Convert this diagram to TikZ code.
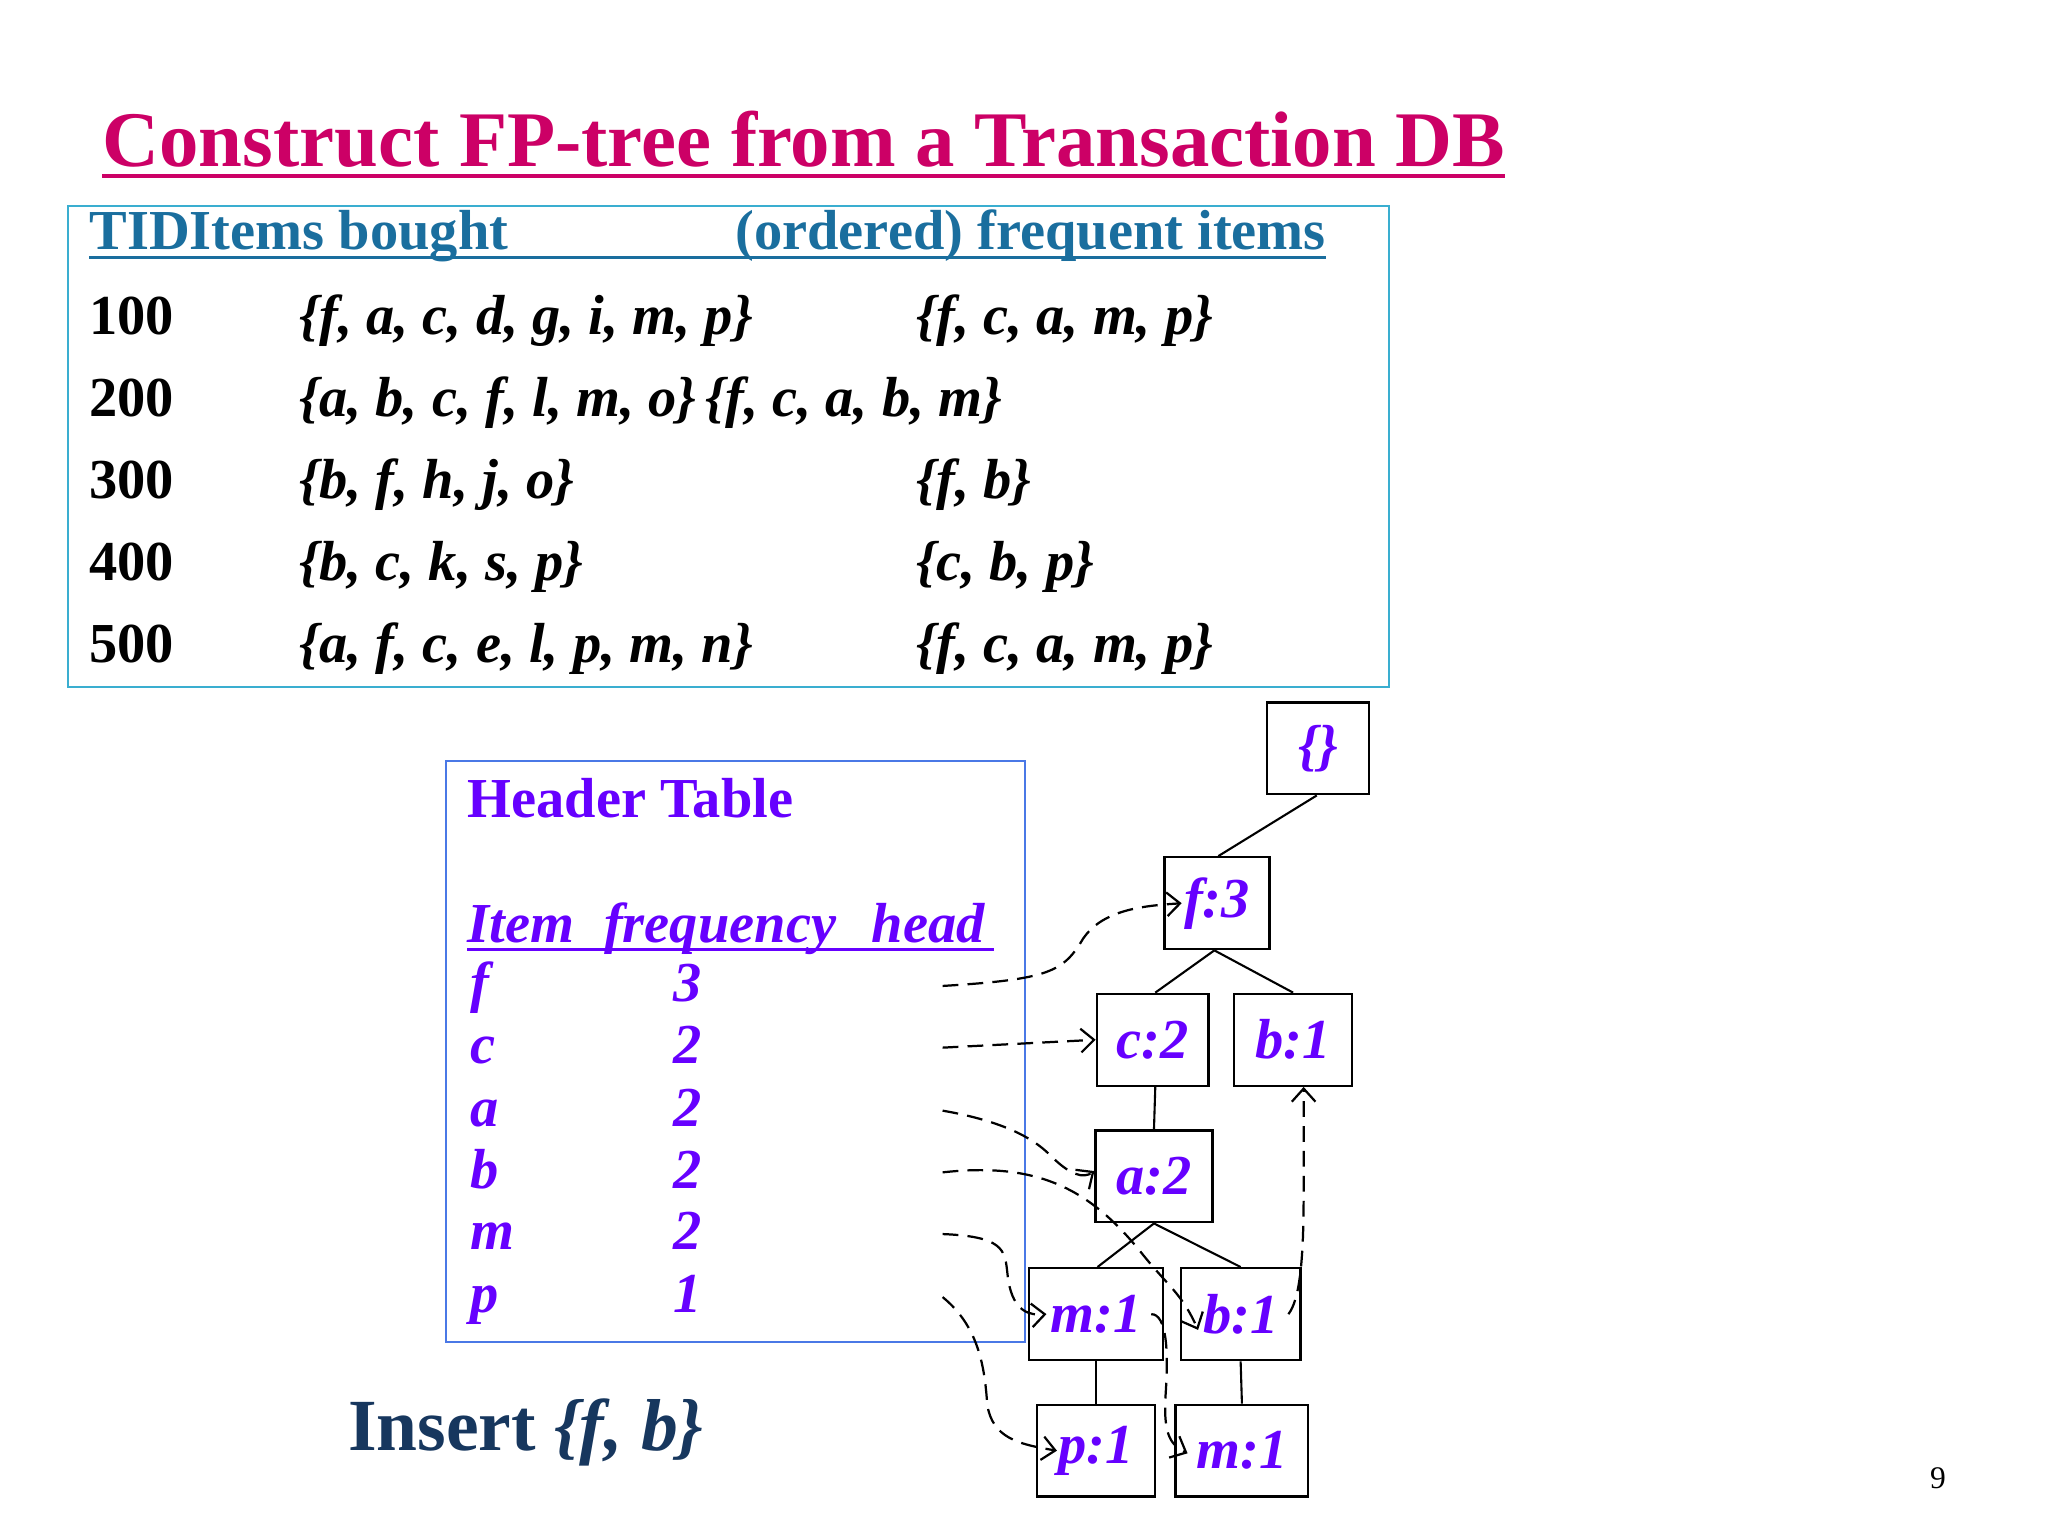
\documentclass[tikz,border=0pt]{standalone}
\usepackage{fontspec}
\setmainfont{Liberation Serif}
\usetikzlibrary{arrows.meta}
\definecolor{titlec}{HTML}{CC0066}
\definecolor{tidc}{HTML}{1A6E9E}
\definecolor{boxc}{HTML}{3AAED0}
\definecolor{htc}{HTML}{4A78E6}
\definecolor{pur}{HTML}{6600FF}
\definecolor{navy}{HTML}{17375E}
\tikzset{
  txt/.style={anchor=base west,inner sep=0pt,font=\fontsize{43}{50}\selectfont\bfseries},
  ht/.style={anchor=base west,inner sep=0pt,text=pur,font=\fontsize{43}{50}\selectfont\bfseries\itshape},
  tn/.style={draw=black,line width=1.8pt,inner sep=0pt,text=pur,font=\fontsize{43}{50}\selectfont\bfseries\itshape},
  edge/.style={line width=1.6pt},
  dar/.style={line width=1.7pt,dash pattern=on 12pt off 7pt,-{Straight Barb[length=10pt,width=18pt,line width=1.7pt]}}
}
\begin{document}
\begin{tikzpicture}[x=1pt,y=-1pt]
\useasboundingbox (0,0) rectangle (1560,1170);
% title
\node[anchor=base west,inner sep=0pt,text=titlec,font=\fontsize{60}{70}\selectfont\bfseries] (title) at (78,127) {Construct FP-tree from a Transaction DB};
\draw[titlec,line width=2.5pt] (title.south west |- 0,134) -- (title.south east |- 0,134);
% transaction table
\draw[boxc,line width=1.5pt] (52,157) rectangle (1058,523);
\node[txt,text=tidc] (h1) at (68,190) {TIDItems bought};
\node[txt,text=tidc] (h2) at (560,190) {(ordered) frequent items};
\draw[tidc,line width=2.5pt] (68,196) -- (h2.east |- 0,196);
\foreach \t/\a/\b/\y in {100/{f, a, c, d, g, i, m, p}/{f, c, a, m, p}/255,
  300/{b, f, h, j, o}/{f, b}/380, 400/{b, c, k, s, p}/{c, b, p}/442,
  500/{a, f, c, e, l, p, m, n}/{f, c, a, m, p}/505}{
  \node[txt] (t\t) at (68,\y) {\t};
  \node[txt,font=\fontsize{43}{50}\selectfont\bfseries\itshape] (i\t) at (228,\y) {\{\a\}};
  \node[txt,font=\fontsize{43}{50}\selectfont\bfseries\itshape] (o\t) at (698,\y) {\{\b\}};
}
\node[txt] (t200) at (68,317) {200};
\node[txt,font=\fontsize{43}{50}\selectfont\bfseries\itshape] (i200) at (228,317) {\{a, b, c, f, l, m, o\}\,\{f, c, a, b, m\}};
% header table
\draw[htc,line width=1.5pt] (340,580) rectangle (781,1022);
\node[anchor=base west,inner sep=0pt,text=pur,font=\fontsize{43}{50}\selectfont\bfseries] (htitle) at (356,623) {Header Table};
\node[ht] (hh1) at (356,718) {Item};
\node[ht] (hh2) at (460,718) {frequency};
\node[ht] (hh3) at (664,718) {head};
\draw[pur,line width=2.5pt] (356,723) -- (757,723);
\foreach \n/\f/\y in {f/3/763,c/2/810,a/2/858,b/2/905,m/2/952,p/1/1000}{
  \node[ht] (hi\n) at (358,\y) {\n};
  \node[ht] (hf\n) at (513,\y) {\f};
  \coordinate (hd\n) at (718,\y-12);
}
% tree
\node[tn,minimum width=78pt,minimum height=70pt] (root) at (1004,570) {\{\}};
\node[tn,minimum width=80pt,minimum height=70pt] (f3) at (927,688) {f:3};
\node[tn,minimum width=85pt,minimum height=70pt] (c2) at (878,792) {c:2};
\node[tn,minimum width=90pt,minimum height=70pt] (b1a) at (985,792) {b:1};
\node[tn,minimum width=89pt,minimum height=70pt] (a2) at (879,896) {a:2};
\node[tn,minimum width=102pt,minimum height=70pt] (m1a) at (835,1001) {m:1};
\node[tn,minimum width=91pt,minimum height=70pt] (b1b) at (945,1001) {b:1};
\node[tn,minimum width=90pt,minimum height=70pt] (p1) at (835,1105) {p:1};
\node[tn,minimum width=101pt,minimum height=70pt] (m1b) at (946,1105) {m:1};
\draw[edge] ([xshift=-1pt]root.south) -- ([xshift=1pt]f3.north);
\draw[edge] ([xshift=-2pt]f3.south) -- ([xshift=2pt]c2.north);
\draw[edge] ([xshift=-2pt]f3.south) -- ([xshift=0pt]b1a.north);
\draw[edge] ([xshift=2pt]c2.south) -- (a2.north);
\draw[edge] (a2.south) -- ([xshift=1pt]m1a.north);
\draw[edge] (a2.south) -- (b1b.north);
\draw[edge] (m1a.south) -- (p1.north);
\draw[edge] (b1b.south) -- (m1b.north);
% node links
\draw[dar] (hdf) .. controls (800,746) and (810,740) .. (825,715) .. controls (840,693) and (870,690) .. ([xshift=14pt]f3.west);
\draw[dar] (hdc) -- (c2.west);
\draw[dar] (hda) .. controls (770,855) and (790,870) .. (800,880) .. controls (815,895) and (825,898) .. ([yshift=4pt]a2.west);
\draw[dar] (hdb) .. controls (790,885) and (830,905) .. (870,955) .. controls (890,980) and (900,985) .. ([xshift=14pt,yshift=-12pt]b1b.west);
\draw[dar] (hdm) .. controls (770,942) and (765,955) .. (768,975) .. controls (772,1000) and (785,1002) .. ([xshift=14pt]m1a.west);
\draw[dar] (hdp) .. controls (745,1010) and (750,1040) .. (752,1070) .. controls (756,1095) and (775,1100) .. ([xshift=16pt]p1.west);
\draw[dar] ([xshift=-10pt]m1a.east) .. controls ([xshift=2pt]m1a.east) and (890,1030) .. (888,1060) .. controls (886,1090) and (890,1100) .. ([xshift=10pt,yshift=-2pt]m1b.west);
\draw[dar] ([xshift=-10pt]b1b.east) .. controls (990,990) and (993,960) .. (993,910) -- ([xshift=8pt]b1a.south);
% insert
\node[anchor=base west,inner sep=0pt,text=navy,font=\fontsize{56}{64}\selectfont\bfseries] (ins) at (265,1105) {Insert \textit{\{f, b\}}};
\node[anchor=base west,inner sep=0pt,font=\fontsize{24}{28}\selectfont] (pg) at (1470,1134) {9};
\end{tikzpicture}
\end{document}
